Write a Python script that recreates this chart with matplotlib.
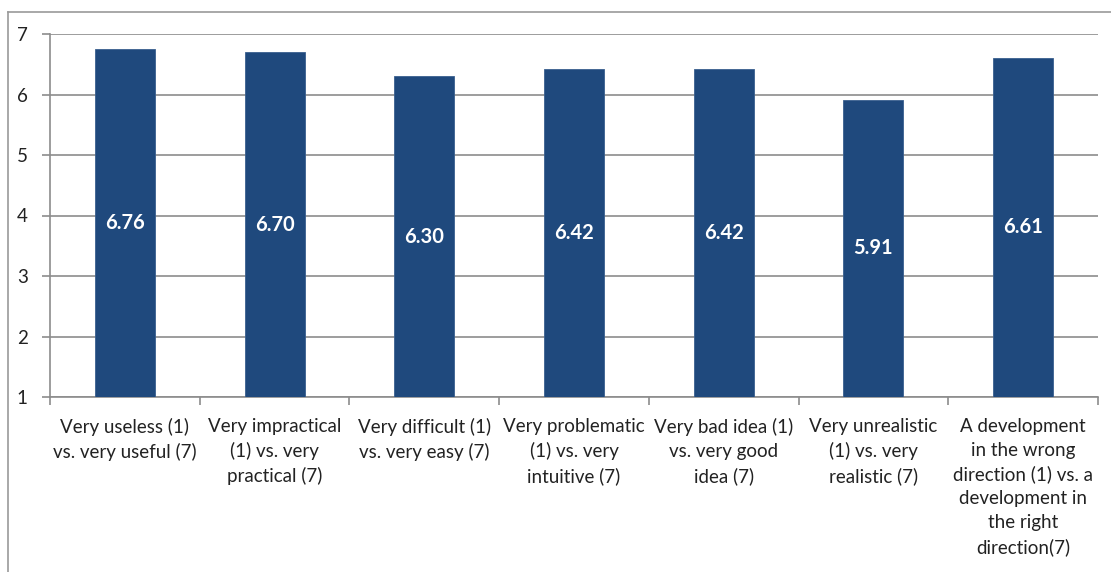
import matplotlib.pyplot as plt
from matplotlib.lines import Line2D

categories = [
    "Very useless (1)\nvs. very useful (7)",
    "Very impractical\n(1) vs. very\npractical (7)",
    "Very difficult (1)\nvs. very easy (7)",
    "Very problematic\n(1) vs. very\nintuitive (7)",
    "Very bad idea (1)\nvs. very good\nidea (7)",
    "Very unrealistic\n(1) vs. very\nrealistic (7)",
    "A development\nin the wrong\ndirection (1) vs. a\ndevelopment in\nthe right\ndirection(7)",
]
means = [6.76, 6.70, 6.30, 6.42, 6.42, 5.91, 6.61]
y_ticks = [1, 2, 3, 4, 5, 6, 7]

plt.rcParams['font.family'] = ['Lato', 'DejaVu Sans']
text_col = '#222222'
grid_col = '#8c8c8c'
bar_col = '#1f497d'

fig = plt.figure(figsize=(11.11, 5.72), dpi=100)
ax = fig.add_axes([50 / 1111, 1 - 397 / 572, 1048 / 1111, 363 / 572])

x = list(range(len(categories)))
bars = ax.bar(x, [m - 1 for m in means], bottom=1, width=0.4,
              color=bar_col, edgecolor='#3a5f8f', linewidth=0.6, zorder=3)

for xi, m in zip(x, means):
    ax.text(xi, (1 + m) / 2, f'{m:.2f}', ha='center', va='center',
            color='white', fontsize=14.5, fontweight='bold', zorder=4)

ax.set_xlim(-0.5, len(categories) - 0.5)
ax.set_ylim(1, 7)
ax.set_yticks(y_ticks)
ax.yaxis.grid(True, color=grid_col, linewidth=1.2, zorder=0)

# boundary ticks between categories, labels at centres
ax.set_xticks([i - 0.5 for i in range(len(categories) + 1)])
ax.set_xticklabels([])
ax.set_xticks(x, minor=True)
ax.set_xticklabels(categories, minor=True, fontsize=13.5, color=text_col,
                   linespacing=1.48, va='top')
ax.tick_params(axis='x', which='major', length=6, color=grid_col, width=1.2)
ax.tick_params(axis='x', which='minor', length=0, pad=15)
ax.tick_params(axis='y', length=6, color=grid_col, width=1.2, pad=10,
               labelsize=13.5, labelcolor=text_col)

for side in ['top', 'right']:
    ax.spines[side].set_visible(False)
for side in ['left', 'bottom']:
    ax.spines[side].set_color(grid_col)
    ax.spines[side].set_linewidth(1.2)

# outer chart frame
fig.add_artist(Line2D([8 / 1111, 8 / 1111], [0, 1 - 12 / 572],
                      transform=fig.transFigure, color='#9a9a9a', linewidth=1.2))
fig.add_artist(Line2D([8 / 1111, 1], [1 - 12 / 572, 1 - 12 / 572],
                      transform=fig.transFigure, color='#9a9a9a', linewidth=1.2))

fig.savefig('out.png', dpi=100)
